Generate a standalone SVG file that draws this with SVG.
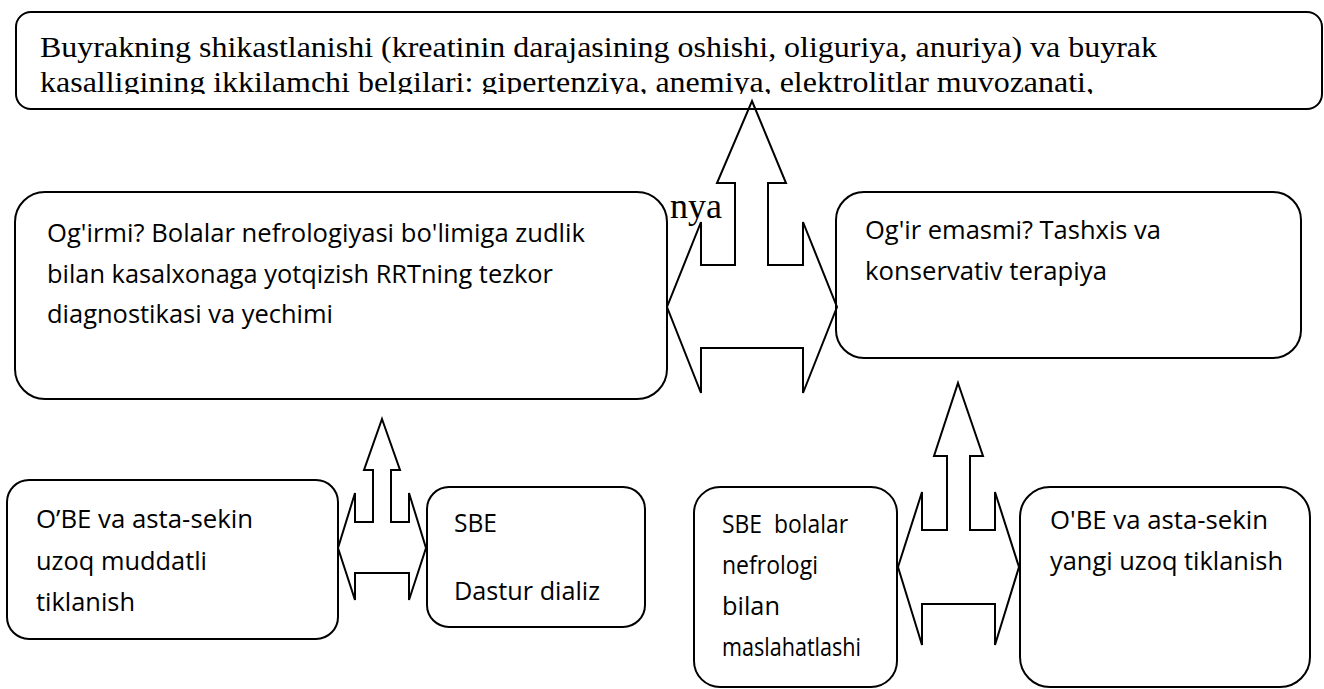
<svg xmlns="http://www.w3.org/2000/svg" width="1324" height="689" viewBox="0 0 1324 689">
<style>
.box{fill:#fff;stroke:#000;stroke-width:2}
.arrow{fill:none;stroke:#000;stroke-width:2;stroke-linejoin:miter}
.serif{font-family:"Liberation Serif","Times New Roman",serif;font-size:30px;fill:#000}
.sans{font-family:"Open Sans","Noto Sans",sans-serif;font-size:26px;fill:#000}
</style>
<defs>
<clipPath id="topclip"><rect x="0" y="0" width="1324" height="94"/></clipPath>
</defs>
<rect width="1324" height="689" fill="#fff"/>
<g id="node-top">
<rect class="box" x="16" y="12" width="1306" height="97" rx="15"/>
<text class="serif" x="40" y="57" textLength="1117" lengthAdjust="spacingAndGlyphs">Buyrakning shikastlanishi (kreatinin darajasining oshishi, oliguriya, anuriya) va buyrak</text>
<text class="serif" x="40" y="92" textLength="1054" lengthAdjust="spacingAndGlyphs" clip-path="url(#topclip)">kasalligining ikkilamchi belgilari: gipertenziya, anemiya, elektrolitlar muvozanati,</text>
<text class="serif" x="722" y="218" text-anchor="end" style="font-size:36px">nya</text>
</g>
<g id="node-severe">
<rect class="box" x="15" y="192" width="652" height="207" rx="30"/>
<text class="sans" x="47" y="242" textLength="538" lengthAdjust="spacingAndGlyphs">Og'irmi? Bolalar nefrologiyasi bo'limiga zudlik</text>
<text class="sans" x="47" y="283" textLength="506" lengthAdjust="spacingAndGlyphs">bilan kasalxonaga yotqizish RRTning tezkor</text>
<text class="sans" x="47" y="323" textLength="286" lengthAdjust="spacingAndGlyphs">diagnostikasi va yechimi</text>
</g>
<g id="node-mild">
<rect class="box" x="836" y="192" width="465" height="166" rx="28"/>
<text class="sans" x="865" y="239" textLength="296" lengthAdjust="spacingAndGlyphs">Og'ir emasmi? Tashxis va</text>
<text class="sans" x="865" y="280" textLength="242" lengthAdjust="spacingAndGlyphs">konservativ terapiya</text>
</g>
<g id="node-obe1">
<rect class="box" x="7" y="480" width="331" height="159" rx="22"/>
<text class="sans" x="36" y="528" textLength="217" lengthAdjust="spacingAndGlyphs">O’BE va asta-sekin</text>
<text class="sans" x="36" y="570" textLength="171" lengthAdjust="spacingAndGlyphs">uzoq muddatli</text>
<text class="sans" x="36" y="611" textLength="99" lengthAdjust="spacingAndGlyphs">tiklanish</text>
</g>
<g id="node-sbe1">
<rect class="box" x="427" y="487" width="218" height="140" rx="22"/>
<text class="sans" x="454" y="532" textLength="43" lengthAdjust="spacingAndGlyphs">SBE</text>
<text class="sans" x="454" y="600" textLength="146" lengthAdjust="spacingAndGlyphs">Dastur dializ</text>
</g>
<g id="node-sbe2">
<rect class="box" x="694" y="487" width="203" height="200" rx="26"/>
<text class="sans" x="722" y="533" textLength="126" lengthAdjust="spacingAndGlyphs" xml:space="preserve">SBE  bolalar</text>
<text class="sans" x="722" y="574" textLength="96" lengthAdjust="spacingAndGlyphs">nefrologi</text>
<text class="sans" x="722" y="615" textLength="58" lengthAdjust="spacingAndGlyphs">bilan</text>
<text class="sans" x="722" y="656" textLength="139" lengthAdjust="spacingAndGlyphs">maslahatlashi</text>
</g>
<g id="node-obe2">
<rect class="box" x="1020" y="487" width="290" height="200" rx="30"/>
<text class="sans" x="1050" y="529" textLength="218" lengthAdjust="spacingAndGlyphs">O'BE va asta-sekin</text>
<text class="sans" x="1050" y="570" textLength="233" lengthAdjust="spacingAndGlyphs">yangi uzoq tiklanish</text>
</g>
<g id="connectors">
<path class="arrow" d="M752,101 L786,183 L768,183 L768,265 L803,265 L803,222 L837,307 L803,393 L803,348 L701,348 L701,393 L667,307 L701,222 L701,265 L735,265 L735,183 L717,183 Z"/>
<path class="arrow" d="M382,419 L400,470 L391,470 L391,522 L409,522 L409,493 L426,548 L409,600 L409,573 L355,573 L355,600 L338,548 L355,493 L355,522 L373,522 L373,470 L364,470 Z"/>
<path class="arrow" d="M958,383 L983,456 L970,456 L970,530 L995,530 L995,492 L1019,567 L995,645 L995,604 L922,604 L922,645 L898,567 L922,492 L922,530 L947,530 L947,456 L934,456 Z"/>
</g>
</svg>
